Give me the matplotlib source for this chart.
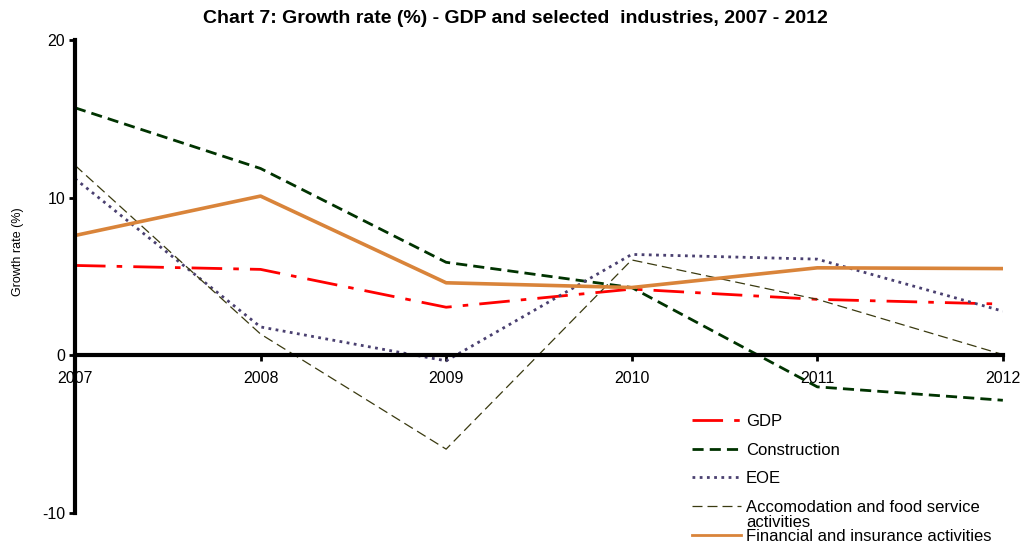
import matplotlib
matplotlib.use("Agg")
import matplotlib.pyplot as plt

plt.rcParams['font.family'] = ['Liberation Sans', 'DejaVu Sans']
plt.rcParams['axes.unicode_minus'] = False

years = [2007, 2008, 2009, 2010, 2011, 2012]
gdp = [5.7, 5.45, 3.05, 4.2, 3.55, 3.25]
construction = [15.7, 11.85, 5.9, 4.3, -2.0, -2.85]
eoe = [11.2, 1.8, -0.35, 6.4, 6.1, 2.8]
accomodation = [12.05, 1.35, -5.95, 6.05, 3.55, 0.05]
financial = [7.6, 10.1, 4.6, 4.3, 5.55, 5.5]

fig = plt.figure(figsize=(10.23, 5.44), dpi=100)
ax = fig.add_axes([0.0733, 0.057, 0.907, 0.8695])

ax.plot(years, gdp, color='#ff0000', lw=2, dashes=(11, 4, 2, 4), label='GDP')
ax.plot(years, construction, color='#003300', lw=2, dashes=(4, 2.2), label='Construction')
ax.plot(years, eoe, color='#4a4070', lw=2, dashes=(1, 1.6), label='EOE')
ax.plot(years, accomodation, color='#3a3a10', lw=0.9, dashes=(8, 4),
        label='Accomodation and food service')
ax.plot(years, financial, color='#d9843a', lw=2.6, label='Financial and insurance activities')

ax.set_xlim(2007, 2012)
ax.set_ylim(-10, 20)
ax.set_yticks([-10, 0, 10, 20])
ax.set_xticks(years)

ax.spines['top'].set_visible(False)
ax.spines['right'].set_visible(False)
ax.spines['left'].set_linewidth(3)
ax.spines['bottom'].set_linewidth(3)
ax.spines['bottom'].set_position(('data', 0))
ax.tick_params(axis='both', direction='out', length=4, width=2, labelsize=11.5, pad=3)
ax.tick_params(axis='x', pad=7)

ax.set_ylabel('Growth rate (%)', fontsize=9)
ax.yaxis.set_label_coords(-0.055, 0.552)

fig.suptitle('Chart 7: Growth rate (%) - GDP and selected  industries, 2007 - 2012',
             fontsize=14, fontweight='bold', x=0.504, y=0.982)

# legend rows ~28 px apart; the long label wraps onto a second line under its row
leg = fig.legend(loc='upper left', bbox_to_anchor=(0.676, 0.239), frameon=False,
                 fontsize=12, handlelength=2.95, handletextpad=0.3, labelspacing=0.82,
                 borderaxespad=0, borderpad=0)
for line in leg.get_lines():
    line.set_linewidth(min(line.get_linewidth(), 2))
fig.text(0.729, 0.0395, 'activities', fontsize=12, va='center', ha='left')

fig.savefig('out.png', dpi=100)
